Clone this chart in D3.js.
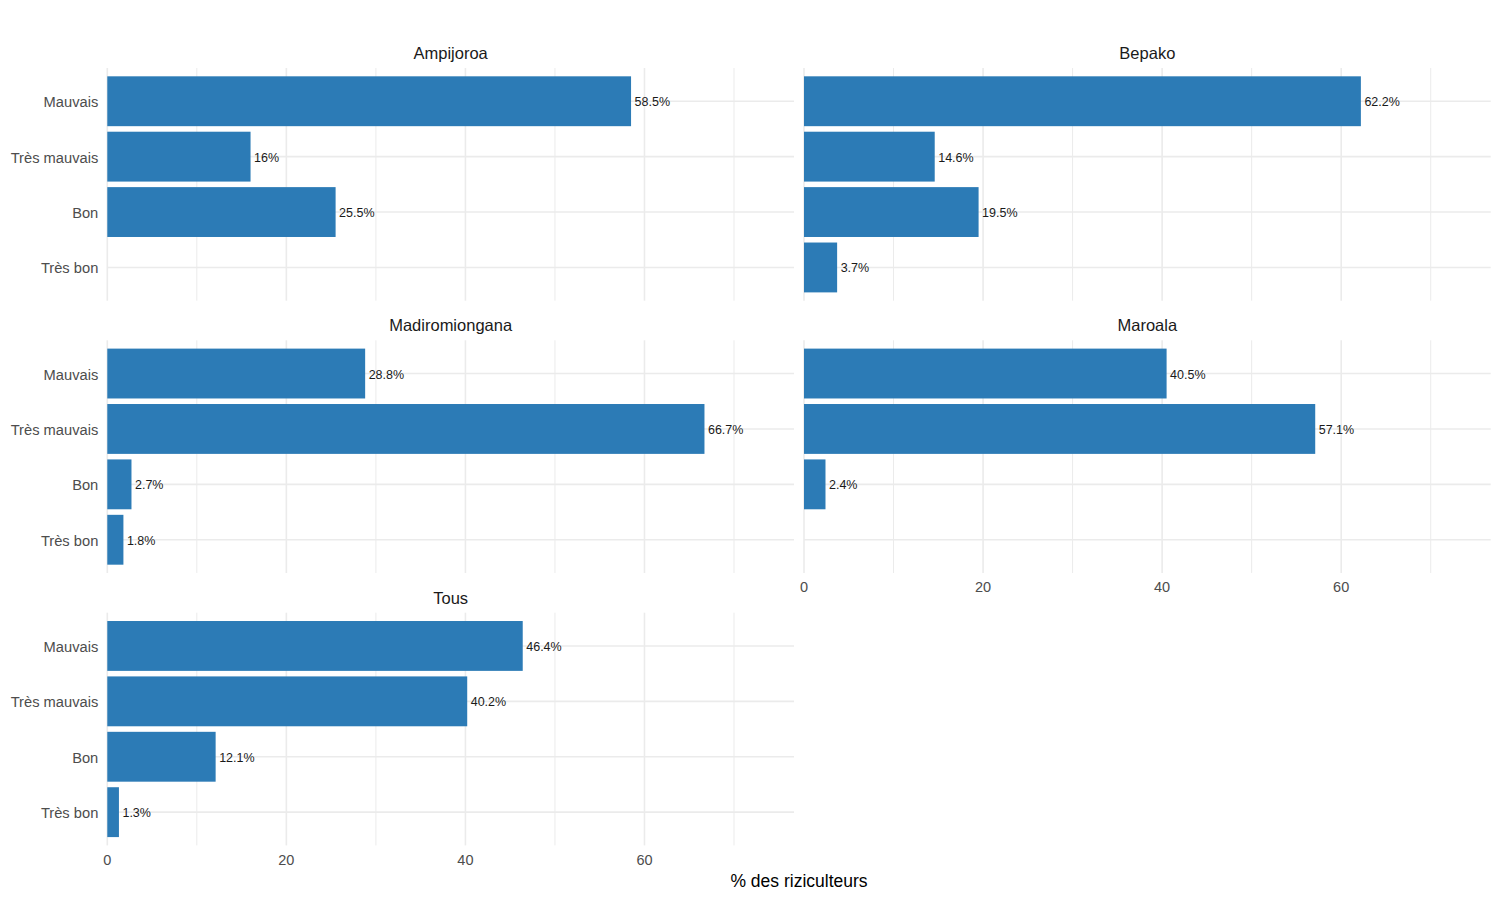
<!DOCTYPE html>
<html>
<head>
<meta charset="utf-8">
<script src="https://cdn.jsdelivr.net/npm/d3@7"></script>
<style>
  body { margin: 0; background: #fff; }
  svg text { font-family: "Liberation Sans", Arial, sans-serif; }
</style>
</head>
<body>
<div id="chart"></div>
<script>
// data
var categories = ["Mauvais", "Très mauvais", "Bon", "Très bon"];
var sites = ["Ampijoroa", "Bepako", "Madiromiongana", "Maroala", "Tous"];
var ampijoroa = [58.5, 16, 25.5, null];
var bepako = [62.2, 14.6, 19.5, 3.7];
var madiromiongana = [28.8, 66.7, 2.7, 1.8];
var maroala = [40.5, 57.1, 2.4, null];
var tous = [46.4, 40.2, 12.1, 1.3];
var labels = [
  ["58.5%", "16%", "25.5%", null],
  ["62.2%", "14.6%", "19.5%", "3.7%"],
  ["28.8%", "66.7%", "2.7%", "1.8%"],
  ["40.5%", "57.1%", "2.4%", null],
  ["46.4%", "40.2%", "12.1%", "1.3%"]
];
var xTicks = [0, 20, 40, 60];
var xMinor = [10, 30, 50, 70];

var seriesList = [ampijoroa, bepako, madiromiongana, maroala, tous];

var width = 1500, height = 900;
var colLeft = [107.3, 804],
    panelW = 686.7,
    rowTop = [68, 340.3, 612.7],
    panelH = 232.7;

var x = d3.scaleLinear().domain([0, 76.7]).range([0, panelW]);
var y = d3.scaleBand().domain(categories).range([0, panelH])
  .paddingInner(0.1).paddingOuter(0.15);

var svg = d3.select("#chart").append("svg")
  .attr("width", width)
  .attr("height", height);

sites.forEach(function(site, i) {
  var col = i % 2, row = Math.floor(i / 2);
  var g = svg.append("g")
    .attr("transform", "translate(" + colLeft[col] + "," + rowTop[row] + ")");

  // grid
  g.selectAll(".minor").data(xMinor).enter().append("line")
    .attr("x1", d => x(d)).attr("x2", d => x(d))
    .attr("y1", 0).attr("y2", panelH)
    .attr("stroke", "#ebebeb").attr("stroke-width", 1);
  g.selectAll(".major").data(xTicks).enter().append("line")
    .attr("x1", d => x(d)).attr("x2", d => x(d))
    .attr("y1", 0).attr("y2", panelH)
    .attr("stroke", "#ebebeb").attr("stroke-width", 1.6);
  g.selectAll(".hgrid").data(categories).enter().append("line")
    .attr("x1", 0).attr("x2", panelW)
    .attr("y1", d => y(d) + y.bandwidth() / 2)
    .attr("y2", d => y(d) + y.bandwidth() / 2)
    .attr("stroke", "#ebebeb").attr("stroke-width", 1.6);

  var data = categories.map(function(c, j) {
    return {cat: c, v: seriesList[i][j], lab: labels[i][j]};
  }).filter(d => d.v != null);

  g.selectAll(".bar").data(data).enter().append("rect")
    .attr("x", x(0))
    .attr("y", d => y(d.cat))
    .attr("width", d => x(d.v) - x(0))
    .attr("height", y.bandwidth())
    .attr("fill", "#2c7bb6");

  g.selectAll(".val").data(data).enter().append("text")
    .attr("x", d => x(d.v) + 3.5)
    .attr("y", d => y(d.cat) + y.bandwidth() / 2 + 1)
    .attr("dominant-baseline", "central")
    .attr("font-size", "12.5px")
    .attr("fill", "#1a1a1a")
    .text(d => d.lab);

  // strip title
  g.append("text")
    .attr("x", panelW / 2)
    .attr("y", -15)
    .attr("text-anchor", "middle")
    .attr("dominant-baseline", "central")
    .attr("font-size", "16.5px")
    .attr("fill", "#1a1a1a")
    .text(site);

  // y labels on left column
  if (col === 0) {
    g.selectAll(".ylab").data(categories).enter().append("text")
      .attr("x", -9)
      .attr("y", d => y(d) + y.bandwidth() / 2 + 1)
      .attr("text-anchor", "end")
      .attr("dominant-baseline", "central")
      .attr("font-size", "14.7px")
      .attr("fill", "#4d4d4d")
      .text(d => d);
  }

  // x labels under bottom panels
  if (i === 3 || i === 4) {
    g.selectAll(".xlab").data(xTicks).enter().append("text")
      .attr("x", d => x(d))
      .attr("y", panelH + 14.5)
      .attr("text-anchor", "middle")
      .attr("dominant-baseline", "central")
      .attr("font-size", "14.5px")
      .attr("fill", "#4d4d4d")
      .text(d => d);
  }
});

svg.append("text")
  .attr("x", (colLeft[0] + colLeft[1] + panelW) / 2)
  .attr("y", 880.5)
  .attr("text-anchor", "middle")
  .attr("dominant-baseline", "central")
  .attr("font-size", "17.5px")
  .attr("fill", "#000")
  .text("% des riziculteurs");
</script>
</body>
</html>
